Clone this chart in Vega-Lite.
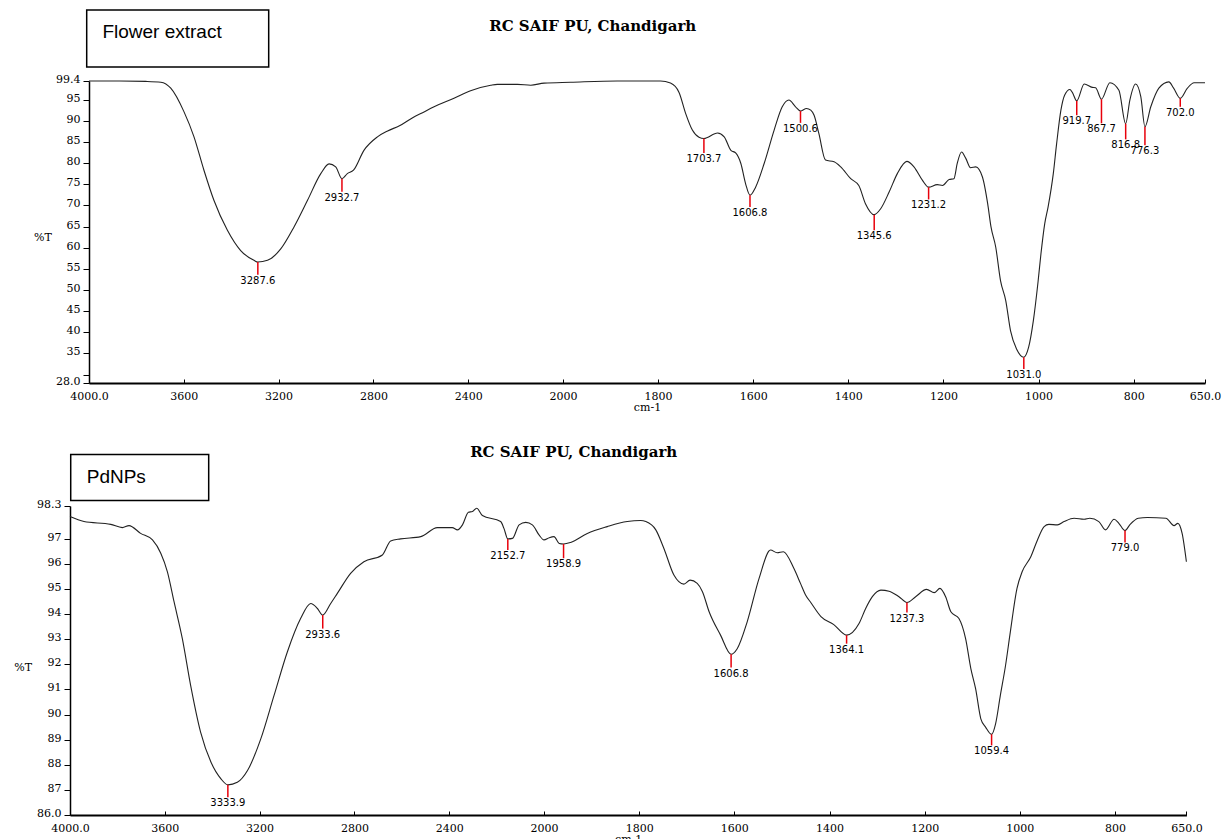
{
  "$schema": "https://vega.github.io/schema/vega-lite/v6.json",
  "background": "white",
  "padding": {"left": 13, "top": 9, "right": 5, "bottom": 0},
  "spacing": 33,
  "config": {
    "view": {"stroke": null},
    "axis": {"domainColor": "black", "tickColor": "black", "labelColor": "black", "titleColor": "black", "grid": false,
      "labelFont": "DejaVu Serif", "labelFontSize": 11, "titleFont": "DejaVu Serif", "titleFontSize": 11, "titleFontWeight": "normal",
      "labelFlush": false, "labelOverlap": false}
  },
  "datasets": {
    "flower": [
      {"wn":4000,"T":99.4},{"wn":3870,"T":99.4},{"wn":3760,"T":99.3},{"wn":3697,"T":99.1},{"wn":3655,"T":97.7},{"wn":3599,"T":92.1},{"wn":3557,"T":86.2},{"wn":3515,"T":78.3},{"wn":3473,"T":71.2},{"wn":3416,"T":64.1},{"wn":3360,"T":59.3},{"wn":3304,"T":57.0},{"wn":3287.6,"T":56.6},{"wn":3247,"T":57.0},{"wn":3191,"T":59.7},{"wn":3135,"T":64.9},{"wn":3078,"T":71.2},{"wn":3022,"T":77.5},{"wn":2987,"T":79.8},{"wn":2959,"T":79.1},{"wn":2932.7,"T":76.3},{"wn":2910,"T":77.5},{"wn":2884,"T":78.3},{"wn":2840,"T":83.0},{"wn":2783,"T":86.2},{"wn":2740,"T":87.6},{"wn":2690,"T":88.8},{"wn":2629,"T":90.9},{"wn":2600,"T":91.7},{"wn":2544,"T":93.3},{"wn":2460,"T":95.3},{"wn":2390,"T":97.1},{"wn":2305,"T":98.4},{"wn":2277,"T":98.6},{"wn":2192,"T":98.6},{"wn":2136,"T":98.4},{"wn":2080,"T":98.9},{"wn":1984,"T":99.1},{"wn":1886,"T":99.4},{"wn":1795,"T":99.4},{"wn":1774,"T":98.9},{"wn":1756,"T":96.7},{"wn":1742,"T":91.7},{"wn":1728,"T":87.8},{"wn":1714,"T":86.1},{"wn":1703.7,"T":85.8},{"wn":1675,"T":87.1},{"wn":1661,"T":86.2},{"wn":1647,"T":83.0},{"wn":1637,"T":82.4},{"wn":1626,"T":79.9},{"wn":1616,"T":75.1},{"wn":1606.8,"T":72.4},{"wn":1595,"T":74.3},{"wn":1577,"T":79.9},{"wn":1556,"T":87.8},{"wn":1539,"T":93.3},{"wn":1525,"T":94.9},{"wn":1511,"T":93.3},{"wn":1500.6,"T":92.3},{"wn":1488,"T":92.9},{"wn":1479,"T":92.5},{"wn":1472,"T":91.3},{"wn":1462,"T":87.0},{"wn":1448,"T":80.7},{"wn":1430,"T":80.3},{"wn":1416,"T":79.1},{"wn":1395,"T":76.3},{"wn":1378,"T":74.7},{"wn":1364,"T":70.4},{"wn":1345.6,"T":67.8},{"wn":1332,"T":69.2},{"wn":1314,"T":73.2},{"wn":1297,"T":77.5},{"wn":1277,"T":80.4},{"wn":1262,"T":79.1},{"wn":1244,"T":75.9},{"wn":1231.2,"T":74.3},{"wn":1213,"T":74.9},{"wn":1202,"T":74.7},{"wn":1188,"T":76.1},{"wn":1178,"T":76.3},{"wn":1171,"T":79.9},{"wn":1162,"T":82.6},{"wn":1153,"T":81.1},{"wn":1143,"T":78.9},{"wn":1132,"T":79.1},{"wn":1118,"T":76.7},{"wn":1107,"T":70.4},{"wn":1100,"T":64.9},{"wn":1090,"T":60.1},{"wn":1080,"T":52.2},{"wn":1069,"T":47.5},{"wn":1059,"T":40.4},{"wn":1046,"T":36.0},{"wn":1031.0,"T":34.1},{"wn":1021,"T":36.4},{"wn":1011,"T":42.7},{"wn":1001,"T":52.0},{"wn":995,"T":58.5},{"wn":987,"T":65.7},{"wn":980,"T":69.6},{"wn":969,"T":77.5},{"wn":962,"T":84.6},{"wn":953,"T":92.5},{"wn":945,"T":96.1},{"wn":934,"T":97.4},{"wn":929,"T":96.7},{"wn":919.7,"T":94.7},{"wn":904,"T":98.7},{"wn":887,"T":97.9},{"wn":880,"T":97.8},{"wn":867.7,"T":95.1},{"wn":850,"T":99.0},{"wn":831,"T":97.2},{"wn":816.8,"T":89.3},{"wn":808,"T":94.9},{"wn":796,"T":98.7},{"wn":785,"T":95.7},{"wn":776.3,"T":88.6},{"wn":764,"T":93.3},{"wn":747,"T":97.7},{"wn":726,"T":99.2},{"wn":716,"T":97.7},{"wn":702.0,"T":95.3},{"wn":687,"T":97.7},{"wn":673,"T":99.0},{"wn":650,"T":99.0}
    ],
    "flowerPeaks": [
      {"wn":3287.6,"T":56.6,"Tl":53.6,"label":"3287.6"},
      {"wn":2932.7,"T":76.3,"Tl":73.2,"label":"2932.7"},
      {"wn":1703.7,"T":85.8,"Tl":82.4,"label":"1703.7"},
      {"wn":1606.8,"T":72.4,"Tl":69.6,"label":"1606.8"},
      {"wn":1500.6,"T":92.3,"Tl":89.5,"label":"1500.6"},
      {"wn":1345.6,"T":67.8,"Tl":64.1,"label":"1345.6"},
      {"wn":1231.2,"T":74.3,"Tl":71.4,"label":"1231.2"},
      {"wn":1031.0,"T":34.1,"Tl":31.3,"label":"1031.0"},
      {"wn":919.7,"T":94.7,"Tl":91.3,"label":"919.7"},
      {"wn":867.7,"T":95.1,"Tl":89.4,"label":"867.7"},
      {"wn":816.8,"T":89.3,"Tl":85.6,"label":"816.8"},
      {"wn":776.3,"T":88.6,"Tl":84.2,"label":"776.3"},
      {"wn":702.0,"T":95.3,"Tl":93.3,"label":"702.0"}
    ],
    "flowerBox": [
      {"x1":4009.7,"x2":3241.8,"y1":102.7,"y2":116.2,"tx":3943.5,"ty":109.6,"label":"Flower extract"}
    ],
    "flowerTitle": [
      {"tx":1937.5,"ty":111.2,"label":"RC SAIF PU, Chandigarh"}
    ],
    "pd": [
      {"wn":4000,"T":97.88},{"wn":3941,"T":97.68},{"wn":3828,"T":97.57},{"wn":3779,"T":97.44},{"wn":3751,"T":97.52},{"wn":3702,"T":97.21},{"wn":3652,"T":96.95},{"wn":3617,"T":96.42},{"wn":3589,"T":95.68},{"wn":3561,"T":94.49},{"wn":3526,"T":93.02},{"wn":3491,"T":91.16},{"wn":3449,"T":89.30},{"wn":3405,"T":88.10},{"wn":3363,"T":87.44},{"wn":3333.9,"T":87.20},{"wn":3294,"T":87.30},{"wn":3251,"T":87.77},{"wn":3195,"T":89.03},{"wn":3139,"T":90.76},{"wn":3083,"T":92.49},{"wn":3027,"T":93.82},{"wn":2984,"T":94.42},{"wn":2956,"T":94.22},{"wn":2933.6,"T":93.96},{"wn":2900,"T":94.42},{"wn":2872,"T":94.82},{"wn":2816,"T":95.62},{"wn":2760,"T":96.08},{"wn":2682,"T":96.35},{"wn":2647,"T":96.91},{"wn":2605,"T":96.99},{"wn":2520,"T":97.08},{"wn":2450,"T":97.44},{"wn":2387,"T":97.44},{"wn":2365,"T":97.35},{"wn":2344,"T":97.55},{"wn":2319,"T":98.05},{"wn":2302,"T":98.08},{"wn":2284,"T":98.21},{"wn":2260,"T":97.92},{"wn":2183,"T":97.68},{"wn":2169,"T":97.41},{"wn":2152.7,"T":96.99},{"wn":2133,"T":97.01},{"wn":2105,"T":97.55},{"wn":2077,"T":97.65},{"wn":2049,"T":97.55},{"wn":2021,"T":97.15},{"wn":2000,"T":96.95},{"wn":1989,"T":97.04},{"wn":1979,"T":97.08},{"wn":1968,"T":96.81},{"wn":1958.9,"T":96.79},{"wn":1944,"T":96.85},{"wn":1909,"T":97.21},{"wn":1867,"T":97.48},{"wn":1825,"T":97.68},{"wn":1797,"T":97.72},{"wn":1786,"T":97.68},{"wn":1765,"T":97.35},{"wn":1748,"T":96.61},{"wn":1727,"T":95.55},{"wn":1706,"T":95.19},{"wn":1693,"T":95.35},{"wn":1678,"T":95.22},{"wn":1667,"T":94.89},{"wn":1653,"T":94.09},{"wn":1629,"T":93.16},{"wn":1606.8,"T":92.40},{"wn":1594,"T":92.62},{"wn":1573,"T":93.69},{"wn":1548,"T":95.42},{"wn":1524,"T":96.55},{"wn":1510,"T":96.44},{"wn":1497,"T":96.48},{"wn":1475,"T":95.82},{"wn":1461,"T":95.22},{"wn":1450,"T":94.75},{"wn":1439,"T":94.45},{"wn":1418,"T":93.9},{"wn":1391,"T":93.58},{"wn":1364.1,"T":93.16},{"wn":1338,"T":93.62},{"wn":1324,"T":94.22},{"wn":1310,"T":94.69},{"wn":1292,"T":94.95},{"wn":1275,"T":94.91},{"wn":1254,"T":94.69},{"wn":1237.3,"T":94.46},{"wn":1219,"T":94.69},{"wn":1196,"T":94.98},{"wn":1180,"T":94.85},{"wn":1168,"T":95.02},{"wn":1156,"T":94.69},{"wn":1145,"T":94.09},{"wn":1128,"T":93.82},{"wn":1114,"T":93.02},{"wn":1103,"T":91.83},{"wn":1093,"T":91.03},{"wn":1082,"T":89.83},{"wn":1072,"T":89.50},{"wn":1059.4,"T":89.21},{"wn":1051,"T":89.63},{"wn":1041,"T":90.76},{"wn":1030,"T":91.96},{"wn":1020,"T":93.29},{"wn":1006,"T":95.02},{"wn":995,"T":95.69},{"wn":977,"T":96.28},{"wn":963,"T":96.95},{"wn":949,"T":97.48},{"wn":939,"T":97.57},{"wn":921,"T":97.55},{"wn":907,"T":97.68},{"wn":886,"T":97.81},{"wn":865,"T":97.77},{"wn":853,"T":97.81},{"wn":834,"T":97.68},{"wn":820,"T":97.35},{"wn":802,"T":97.77},{"wn":792,"T":97.61},{"wn":779.0,"T":97.32},{"wn":769,"T":97.55},{"wn":751,"T":97.81},{"wn":732,"T":97.84},{"wn":693,"T":97.81},{"wn":676,"T":97.52},{"wn":668,"T":97.61},{"wn":659,"T":97.21},{"wn":650,"T":96.08}
    ],
    "pdPeaks": [
      {"wn":3333.9,"T":87.20,"Tl":86.71,"label":"3333.9"},
      {"wn":2933.6,"T":93.96,"Tl":93.42,"label":"2933.6"},
      {"wn":2152.7,"T":96.99,"Tl":96.55,"label":"2152.7"},
      {"wn":1958.9,"T":96.79,"Tl":96.22,"label":"1958.9"},
      {"wn":1606.8,"T":92.40,"Tl":91.87,"label":"1606.8"},
      {"wn":1364.1,"T":93.16,"Tl":92.82,"label":"1364.1"},
      {"wn":1237.3,"T":94.46,"Tl":94.06,"label":"1237.3"},
      {"wn":1059.4,"T":89.21,"Tl":88.77,"label":"1059.4"},
      {"wn":779.0,"T":97.32,"Tl":96.85,"label":"779.0"}
    ],
    "pdBox": [
      {"x1":3997,"x2":3414.8,"y1":98.52,"y2":100.35,"tx":3929.5,"ty":99.21,"label":"PdNPs"}
    ],
    "pdTitle": [
      {"tx":1937.6,"ty":100.25,"label":"RC SAIF PU, Chandigarh"}
    ]
  },
  "vconcat": [
    {
      "width": 1135,
      "height": 302,
      "layer": [
        {
          "data": {"name": "flower"},
          "mark": {"type": "line", "color": "#222222", "strokeWidth": 1.1, "interpolate": "monotone"},
          "encoding": {
            "x": {"field": "wn", "type": "quantitative",
              "scale": {"domain": [4000, 2000, 650], "range": [19, 493, 1135], "nice": false, "zero": false},
              "axis": {"title": "cm-1", "values": [4000, 3600, 3200, 2800, 2400, 2000, 1800, 1600, 1400, 1200, 1000, 800, 650],
                "tickCount": 100,
                "labelExpr": "datum.value == 4000 ? '4000.0' : datum.value == 650 ? '650.0' : format(datum.value, 'd')",
                "labelOverlap": false, "labelFlush": false,
                "tickSize": -4, "labelPadding": 11, "domainWidth": 2, "titlePadding": 0}},
            "y": {"field": "T", "type": "quantitative",
              "scale": {"domain": [28, 99.4], "nice": false, "zero": false},
              "axis": {"title": "%T", "titleAngle": 0, "titleAlign": "center", "titleBaseline": "middle", "titleX": -46.6, "titleY": 156,
                "values": [28, 30, 35, 40, 45, 50, 55, 60, 65, 70, 75, 80, 85, 90, 95, 99.4],
                "tickCount": 100,
                "labelExpr": "datum.value == 28 ? '28.0' : datum.value == 30 ? '' : datum.value == 99.4 ? '99.4' : format(datum.value, 'd')",
                "labelOverlap": false, "labelFlush": false,
                "tickSize": 6, "labelPadding": 3, "labelOffset": -1.5, "domainWidth": 1.5, "offset": -19}}
          }
        },
        {
          "data": {"name": "flowerPeaks"},
          "mark": {"type": "rule", "color": "#e8000b", "strokeWidth": 1.5},
          "encoding": {
            "x": {"field": "wn", "type": "quantitative"},
            "y": {"field": "T", "type": "quantitative"},
            "y2": {"field": "Tl"}
          }
        },
        {
          "data": {"name": "flowerPeaks"},
          "mark": {"type": "text", "font": "DejaVu Sans", "fontSize": 10, "baseline": "top", "dy": 1, "color": "black"},
          "encoding": {
            "x": {"field": "wn", "type": "quantitative"},
            "y": {"field": "Tl", "type": "quantitative"},
            "text": {"field": "label"}
          }
        },
        {
          "data": {"name": "flowerBox"},
          "mark": {"type": "rect", "filled": false, "stroke": "black", "strokeWidth": 1.5},
          "encoding": {
            "x": {"field": "x1", "type": "quantitative"},
            "x2": {"field": "x2"},
            "y": {"field": "y1", "type": "quantitative"},
            "y2": {"field": "y2"}
          }
        },
        {
          "data": {"name": "flowerBox"},
          "mark": {"type": "text", "font": "Liberation Sans", "fontSize": 19, "align": "left", "baseline": "alphabetic", "color": "black"},
          "encoding": {
            "x": {"field": "tx", "type": "quantitative"},
            "y": {"field": "ty", "type": "quantitative"},
            "text": {"field": "label"}
          }
        },
        {
          "data": {"name": "flowerTitle"},
          "mark": {"type": "text", "font": "DejaVu Serif", "fontSize": 15, "fontWeight": "bold", "align": "center", "baseline": "alphabetic", "color": "black"},
          "encoding": {
            "x": {"field": "tx", "type": "quantitative"},
            "y": {"field": "ty", "type": "quantitative"},
            "text": {"field": "label"}
          }
        }
      ]
    },
    {
      "width": 1116.4,
      "height": 309,
      "layer": [
        {
          "data": {"name": "pd"},
          "mark": {"type": "line", "color": "#222222", "strokeWidth": 1.1, "interpolate": "monotone"},
          "encoding": {
            "x": {"field": "wn", "type": "quantitative",
              "scale": {"domain": [4000, 2000, 650], "range": [0, 474, 1116.4], "nice": false, "zero": false},
              "axis": {"title": "cm-1", "values": [4000, 3600, 3200, 2800, 2400, 2000, 1800, 1600, 1400, 1200, 1000, 800, 650],
                "tickCount": 100,
                "labelExpr": "datum.value == 4000 ? '4000.0' : datum.value == 650 ? '650.0' : format(datum.value, 'd')",
                "labelOverlap": false, "labelFlush": false,
                "tickSize": -4, "labelPadding": 11, "domainWidth": 2, "titlePadding": 0}},
            "y": {"field": "T", "type": "quantitative",
              "scale": {"domain": [86, 98.3], "nice": false, "zero": false},
              "axis": {"title": "%T", "titleAngle": 0, "titleAlign": "center", "titleBaseline": "middle", "titleX": -47.3, "titleY": 161.7,
                "values": [86, 87, 88, 89, 90, 91, 92, 93, 94, 95, 96, 97, 98.3],
                "tickCount": 100,
                "labelExpr": "datum.value == 86 ? '86.0' : datum.value == 98.3 ? '98.3' : format(datum.value, 'd')",
                "labelOverlap": false, "labelFlush": false,
                "tickSize": 6, "labelPadding": 3, "labelOffset": -1.5, "domainWidth": 1.5}}
          }
        },
        {
          "data": {"name": "pdPeaks"},
          "mark": {"type": "rule", "color": "#e8000b", "strokeWidth": 1.5},
          "encoding": {
            "x": {"field": "wn", "type": "quantitative"},
            "y": {"field": "T", "type": "quantitative"},
            "y2": {"field": "Tl"}
          }
        },
        {
          "data": {"name": "pdPeaks"},
          "mark": {"type": "text", "font": "DejaVu Sans", "fontSize": 10, "baseline": "top", "dy": 1, "color": "black"},
          "encoding": {
            "x": {"field": "wn", "type": "quantitative"},
            "y": {"field": "Tl", "type": "quantitative"},
            "text": {"field": "label"}
          }
        },
        {
          "data": {"name": "pdBox"},
          "mark": {"type": "rect", "filled": false, "stroke": "black", "strokeWidth": 1.5},
          "encoding": {
            "x": {"field": "x1", "type": "quantitative"},
            "x2": {"field": "x2"},
            "y": {"field": "y1", "type": "quantitative"},
            "y2": {"field": "y2"}
          }
        },
        {
          "data": {"name": "pdBox"},
          "mark": {"type": "text", "font": "Liberation Sans", "fontSize": 19, "align": "left", "baseline": "alphabetic", "color": "black"},
          "encoding": {
            "x": {"field": "tx", "type": "quantitative"},
            "y": {"field": "ty", "type": "quantitative"},
            "text": {"field": "label"}
          }
        },
        {
          "data": {"name": "pdTitle"},
          "mark": {"type": "text", "font": "DejaVu Serif", "fontSize": 15, "fontWeight": "bold", "align": "center", "baseline": "alphabetic", "color": "black"},
          "encoding": {
            "x": {"field": "tx", "type": "quantitative"},
            "y": {"field": "ty", "type": "quantitative"},
            "text": {"field": "label"}
          }
        }
      ]
    }
  ]
}
